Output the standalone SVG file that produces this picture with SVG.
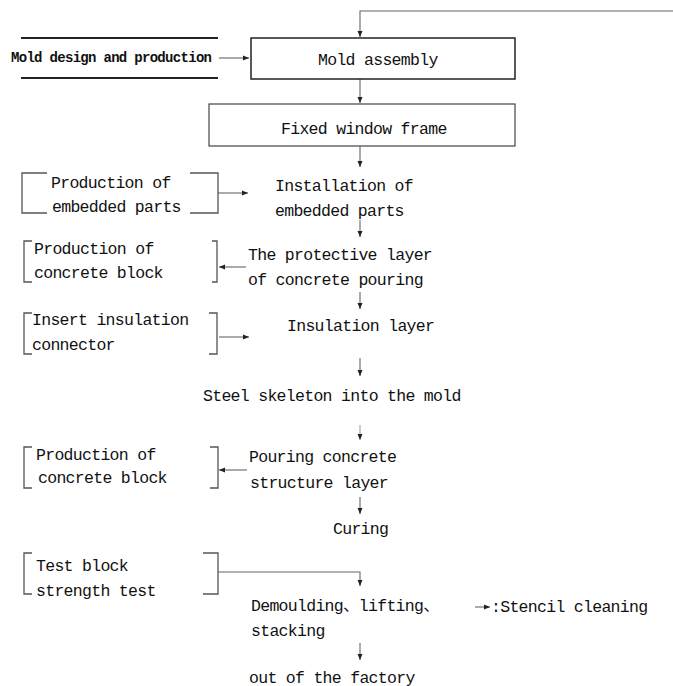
<svg xmlns="http://www.w3.org/2000/svg" width="673" height="686" viewBox="0 0 673 686">
<style>
.t{font-family:"Liberation Mono","DejaVu Sans Mono","Noto Sans CJK SC",monospace;font-size:16.5px;letter-spacing:-0.7px;fill:#111;dominant-baseline:central}
.tb{font-family:"Liberation Mono","DejaVu Sans Mono",monospace;font-size:14px;font-weight:bold;fill:#111;dominant-baseline:central}
.ln{stroke:#666;stroke-width:1.1;fill:none}
.box{stroke:#222;stroke-width:1.5;fill:#fff}
.br{stroke:#555;stroke-width:1.3;fill:none}
.bar{stroke:#222;stroke-width:2;fill:none}
</style>
<defs>
<marker id="ah" markerWidth="6" markerHeight="6" refX="6" refY="3" orient="auto" markerUnits="userSpaceOnUse">
<path d="M0,0.5 L6,3 L0,5.5 z" fill="#222"/>
</marker>
</defs>
<rect width="673" height="686" fill="#fff"/>
<g id="connectors">
<path class="ln" d="M673,11 H360 V37" marker-end="url(#ah)"/>
<path class="ln" d="M219,58 H249" marker-end="url(#ah)"/>
<path class="ln" d="M360,79 V103" marker-end="url(#ah)"/>
<path class="ln" d="M360,146 V167" marker-end="url(#ah)"/>
<path class="ln" d="M218,193 H248" marker-end="url(#ah)"/>
<path class="ln" d="M360,220 V237" marker-end="url(#ah)"/>
<path class="ln" d="M246,267 H219" marker-end="url(#ah)"/>
<path class="ln" d="M360,292 V309" marker-end="url(#ah)"/>
<path class="ln" d="M219,337 H249" marker-end="url(#ah)"/>
<path class="ln" d="M360,358 V376" marker-end="url(#ah)"/>
<path class="ln" d="M360,425 V440" stroke-opacity="0.6" marker-end="url(#ah)"/>
<path class="ln" d="M247,470 H219" marker-end="url(#ah)"/>
<path class="ln" d="M360,497 V514" marker-end="url(#ah)"/>
<path class="ln" d="M218,572 H360 V586" marker-end="url(#ah)"/>
<path class="ln" d="M475,607 H490" marker-end="url(#ah)"/>
<path class="ln" d="M360,643 V660" marker-end="url(#ah)"/>
</g>
<g id="n-mold-design">
<path class="bar" d="M21,38 H218 M21,78 H218"/>
<text class="tb" x="11" y="58" textLength="201">Mold design and production</text>
</g>
<g id="n-mold-assembly">
<rect class="box" x="251" y="38" width="264" height="41"/>
<text class="t" x="318" y="60">Mold assembly</text>
</g>
<g id="n-window-frame">
<rect class="box" x="209" y="104" width="306" height="42" style="stroke:#444;stroke-width:1.2"/>
<text class="t" x="281" y="129">Fixed window frame</text>
</g>
<g id="n-embedded-prod">
<path class="br" d="M47,173 H22 V213 H47 M190,173 H218 V213 H190"/>
<text class="t" x="51" y="183">Production of</text>
<text class="t" x="52" y="207">embedded parts</text>
</g>
<g id="n-embedded-install">
<text class="t" x="275" y="186">Installation of</text>
<text class="t" x="275" y="211">embedded parts</text>
</g>
<g id="n-block1">
<path class="br" d="M32,241 H24 V282 H32 M212,241 H217 V282 H212"/>
<text class="t" x="34" y="249">Production of</text>
<text class="t" x="34" y="273">concrete block</text>
</g>
<g id="n-protective">
<text class="t" x="248" y="255">The protective layer</text>
<text class="t" x="248" y="280">of concrete pouring</text>
</g>
<g id="n-connector">
<path class="br" d="M32,313 H24 V354 H32 M209,313 H217 V354 H209"/>
<text class="t" x="32" y="320">Insert insulation</text>
<text class="t" x="32" y="345">connector</text>
</g>
<g id="n-insulation">
<text class="t" x="287" y="326">Insulation layer</text>
</g>
<g id="n-steel">
<text class="t" x="203" y="396">Steel skeleton into the mold</text>
</g>
<g id="n-block2">
<path class="br" d="M32,447 H24 V488 H32 M210,447 H218 V488 H210"/>
<text class="t" x="36" y="455">Production of</text>
<text class="t" x="38" y="478">concrete block</text>
</g>
<g id="n-pouring">
<text class="t" x="249" y="457">Pouring concrete</text>
<text class="t" x="250" y="483">structure layer</text>
</g>
<g id="n-curing">
<text class="t" x="333" y="529">Curing</text>
</g>
<g id="n-test">
<path class="br" d="M32,553 H24 V594 H32 M203,553 H218 V594 H203"/>
<text class="t" x="36" y="566">Test block</text>
<text class="t" x="36" y="591">strength test</text>
</g>
<g id="n-demould">
<text class="t" x="251" y="606">Demoulding、lifting、</text>
<text class="t" x="251" y="631">stacking</text>
</g>
<g id="n-stencil">
<text class="t" x="491" y="607">:Stencil cleaning</text>
</g>
<g id="n-out">
<text class="t" x="249" y="678">out of the factory</text>
</g>
</svg>
